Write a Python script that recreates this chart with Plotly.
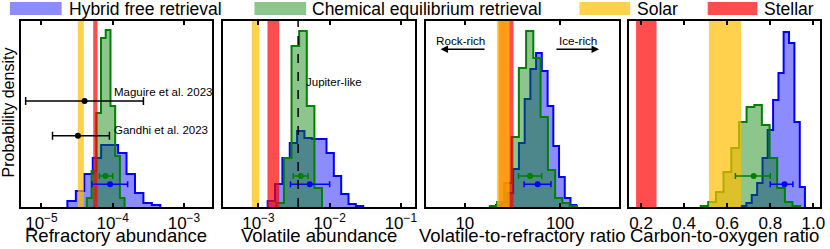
import numpy as np
import plotly.graph_objects as go

# ---------------- data ----------------
# Panel 1: refractory abundance, histogram bin edges in log10
refr_blue_edges_log = [-4.636, -4.517, -4.399, -4.280, -4.162, -4.043, -3.924, -3.806, -3.687, -3.569, -3.450, -3.331]
refr_blue_dens = [6, 16, 33, 49, 62, 62, 54, 33, 14, 4, 2]
refr_green_edges_log = [-4.363, -4.296, -4.230, -4.164, -4.098, -4.031, -3.965, -3.899, -3.833]
refr_green_dens = [9, 36, 94, 169, 177, 101, 51, 9]

# Panel 2: volatile abundance
vol_blue_edges_log = [-2.870, -2.767, -2.664, -2.560, -2.457, -2.354, -2.251, -2.148, -2.044, -1.941, -1.838, -1.735, -1.632, -1.528]
vol_blue_dens = [6, 23, 49, 64, 76, 69, 68, 68, 54, 31, 13, 3, 1]
vol_green_edges_log = [-2.749, -2.642, -2.535, -2.428, -2.321, -2.214, -2.107]
vol_green_dens = [4, 49, 161, 176, 101, 19]

# Panel 3: volatile-to-refractory ratio
vr_blue_edges_log = [1.327, 1.387, 1.447, 1.507, 1.568, 1.628, 1.688, 1.748, 1.808, 1.869, 1.929, 1.989, 2.049, 2.109, 2.170]
vr_blue_dens = [2, 5, 14, 38, 64, 108, 138, 154, 136, 101, 61, 30, 9, 2]
vr_green_edges_log = [1.262, 1.338, 1.414, 1.491, 1.567, 1.643, 1.719, 1.795, 1.872, 1.948, 2.024, 2.100, 2.176]
vr_green_dens = [1, 5, 24, 70, 139, 176, 149, 90, 37, 9, 4, 1]

# Panel 4: carbon-to-oxygen ratio (linear)
co_blue_edges = [0.665, 0.689, 0.714, 0.739, 0.764, 0.788, 0.813, 0.838, 0.862, 0.887, 0.912, 0.937, 0.961]
co_blue_dens = [1, 4, 12, 24, 49, 77, 107, 134, 175, 164, 85, 20]
co_green_edges = [0.477, 0.512, 0.548, 0.583, 0.619, 0.655, 0.690, 0.726, 0.761, 0.797, 0.832, 0.868, 0.903, 0.939]
co_green_dens = [1, 5, 15, 35, 59, 85, 100, 102, 82, 49, 19, 5, 1]

# Solar / stellar ranges [low, high] per panel
solar_ranges = [[3.24e-5, 3.93e-5], [8.07e-4, 1.03e-3], [21.7, 29.5], [0.515, 0.665]]
stellar_ranges = [[5.33e-5, 6.12e-5], [1.34e-3, 1.96e-3], [22.6, 32.4], [0.177, 0.272]]

# Median and 68% interval of each retrieval: [median, low, high]
green_summary = [[7.91e-5, 6.52e-5, 1.0e-4], [3.94e-3, 3.08e-3, 4.98e-3], [48.4, 36.6, 64.1], [0.723, 0.638, 0.800]]
blue_summary = [[9.20e-5, 5.09e-5, 1.62e-4], [5.26e-3, 2.82e-3, 1.0e-2], [58.2, 41.9, 80.2], [0.866, 0.800, 0.905]]
summary_level = {"green": 31, "blue": 22.7}

# Literature refractory abundances
lit_names = ["Maguire et al. 2023", "Gandhi et al. 2023"]
lit_value = [4.03e-5, 3.25e-5]
lit_low = [6.0e-6, 1.43e-5]
lit_high = [2.70e-4, 9.0e-5]
lit_level = [106, 71.3]

jupiter_volatile = 3.61e-3

x_titles = ["Refractory abundance", "Volatile abundance", "Volatile-to-refractory ratio", "Carbon-to-oxygen ratio"]
legend_labels = ["Hybrid free retrieval", "Chemical equilibrium retrieval", "Solar", "Stellar"]

# ---------------- styling ----------------
W, H = 830, 249
TOP, BOT = 21, 207
YMAX = 186
FONT = "Liberation Sans, Arial, Helvetica, sans-serif"
BLUE_FILL = "rgba(0,0,255,0.45)"
GREEN_FILL = "rgba(0,128,0,0.45)"
SOLAR_FILL = "rgba(255,190,0,0.7)"
STELLAR_FILL = "rgba(255,0,0,0.7)"

domains = [[20.7 / W, 213 / W], [224.5 / W, 418 / W], [428.5 / W, 622.5 / W], [633 / W, 825 / W]]
is_log = [True, True, True, False]
xranges = [[-5.293, -2.61], [-3.495, -0.795], [0.591, 2.616], [0.145, 1.031]]
tickvals = [[1e-5, 1e-4, 1e-3], [1e-3, 1e-2, 1e-1], [10, 100], [0.2, 0.4, 0.6, 0.8, 1.0]]
ticktext = [["10<sup>\u22125</sup>", "10<sup>\u22124</sup>", "10<sup>\u22123</sup>"],
            ["10<sup>\u22123</sup>", "10<sup>\u22122</sup>", "10<sup>\u22121</sup>"],
            ["10", "100"],
            ["0.2", "0.4", "0.6", "0.8", "1.0"]]

hists = [
    (refr_blue_edges_log, refr_blue_dens, refr_green_edges_log, refr_green_dens),
    (vol_blue_edges_log, vol_blue_dens, vol_green_edges_log, vol_green_dens),
    (vr_blue_edges_log, vr_blue_dens, vr_green_edges_log, vr_green_dens),
    (co_blue_edges, co_blue_dens, co_green_edges, co_green_dens),
]

fig = go.Figure()


def step(edges, dens, log):
    e = [10 ** v for v in edges] if log else list(edges)
    xs = e + [e[-1]]
    ys = [0] + list(dens) + [0]
    return xs, ys


def ax_name(i, kind):
    return kind + ("" if i == 0 else str(i + 1))


for i in range(4):
    xa, ya = ax_name(i, "x"), ax_name(i, "y")
    be, bd, ge, gd = hists[i]
    for edges, dens, fill, col in [(be, bd, BLUE_FILL, "blue"), (ge, gd, GREEN_FILL, "green")]:
        xs, ys = step(edges, dens, is_log[i])
        fig.add_trace(go.Scatter(x=xs, y=ys, mode="lines", line=dict(color=col, width=2, shape="vh"),
                                 fill="tozeroy", fillcolor=fill, xaxis=xa, yaxis=ya,
                                 showlegend=False, hoverinfo="skip"))
    for rng, fill in [(stellar_ranges[i], STELLAR_FILL), (solar_ranges[i], SOLAR_FILL)]:
        a, b = rng
        fig.add_trace(go.Scatter(x=[a, a, b, b, a], y=[0, YMAX, YMAX, 0, 0], mode="lines",
                                 line=dict(width=0), fill="toself", fillcolor=fill,
                                 xaxis=xa, yaxis=ya, showlegend=False, hoverinfo="skip"))
    for summ, col, key in [(green_summary[i], "green", "green"), (blue_summary[i], "blue", "blue")]:
        m, lo, hi = summ
        fig.add_trace(go.Scatter(x=[m], y=[summary_level[key]], mode="markers",
                                 marker=dict(color=col, size=6),
                                 error_x=dict(type="data", symmetric=False, array=[hi - m], arrayminus=[m - lo],
                                              color=col, thickness=1.5, width=3),
                                 xaxis=xa, yaxis=ya, showlegend=False, hoverinfo="skip"))

# literature points on panel 1
for name, v, lo, hi, lev in zip(lit_names, lit_value, lit_low, lit_high, lit_level):
    fig.add_trace(go.Scatter(x=[v], y=[lev], mode="markers", marker=dict(color="black", size=6),
                             error_x=dict(type="data", symmetric=False, array=[hi - v], arrayminus=[v - lo],
                                          color="black", thickness=1.5, width=4),
                             xaxis="x", yaxis="y", showlegend=False, hoverinfo="skip"))

# Jupiter-like line on panel 2
fig.add_trace(go.Scatter(x=[jupiter_volatile, jupiter_volatile], y=[0, YMAX], mode="lines",
                         line=dict(color="black", width=1.5, dash="dash"),
                         xaxis="x2", yaxis="y2", showlegend=False, hoverinfo="skip"))

annotations = []
SMALL = 11.5
# literature labels
annotations.append(dict(x=-4.0, y=115.3, xref="x", yref="y", text="Maguire et al. 2023", showarrow=False,
                        xanchor="left", yanchor="middle", borderpad=0, font=dict(size=SMALL, color="black")))
annotations.append(dict(x=-3.994, y=77, xref="x", yref="y", text="Gandhi et al. 2023", showarrow=False,
                        xanchor="left", yanchor="middle", borderpad=0, font=dict(size=SMALL, color="black")))
annotations.append(dict(x=-2.349, y=125.3, xref="x2", yref="y2", text="Jupiter-like", showarrow=False,
                        xanchor="left", yanchor="middle", borderpad=0, font=dict(size=SMALL, color="black")))
# Rock-rich / Ice-rich
annotations.append(dict(x=0.950, y=167, xref="x3", yref="y3", text="Rock-rich", showarrow=False,
                        xanchor="center", yanchor="middle", font=dict(size=11.7, color="black")))
annotations.append(dict(x=2.185, y=167, xref="x3", yref="y3", text="Ice-rich", showarrow=False,
                        xanchor="center", yanchor="middle", font=dict(size=11.7, color="black")))
annotations.append(dict(x=0.745, y=157.7, xref="x3", yref="y3", ax=1.222, ay=157.7, axref="x3", ayref="y3",
                        text="", showarrow=True, arrowhead=2, arrowsize=1, arrowwidth=1.5, arrowcolor="black"))
annotations.append(dict(x=2.409, y=157.7, xref="x3", yref="y3", ax=1.946, ay=157.7, axref="x3", ayref="y3",
                        text="", showarrow=True, arrowhead=2, arrowsize=1, arrowwidth=1.5, arrowcolor="black"))

# axis titles
for i in range(4):
    annotations.append(dict(x=0.5, y=(BOT - 235) / YMAX, xref=ax_name(i, "x") + " domain", yref="paper",
                            text=x_titles[i], showarrow=False, xanchor="center", yanchor="middle",
                            font=dict(size=18.5, color="black")))
annotations.append(dict(x=8.5 / W, y=(BOT - 112) / YMAX, xref="paper", yref="paper", text="Probability density",
                        textangle=-90, showarrow=False, xanchor="center", yanchor="middle",
                        font=dict(size=16, color="black")))

# manual legend
shapes = []
leg_patch_x = [[10, 62], [256, 308], [583, 634], [712, 762]]
leg_text_x = [68, 313, 640, 768]
leg_cols = [BLUE_FILL, GREEN_FILL, SOLAR_FILL, STELLAR_FILL]
for (a, b), tx, col, lab in zip(leg_patch_x, leg_text_x, leg_cols, legend_labels):
    shapes.append(dict(type="rect", xref="paper", yref="paper", x0=a / W, x1=b / W,
                       y0=(BOT - 15) / YMAX, y1=(BOT - 2) / YMAX, fillcolor=col, line=dict(width=0)))
    annotations.append(dict(x=tx / W, y=(BOT - 8.5) / YMAX, xref="paper", yref="paper", text=lab,
                            showarrow=False, xanchor="left", yanchor="middle", borderpad=0,
                            font=dict(size=17.5, color="black")))

layout = dict(width=W, height=H, margin=dict(l=0, r=0, t=TOP, b=H - BOT),
              paper_bgcolor="white", plot_bgcolor="white", font=dict(family=FONT, color="black"),
              annotations=annotations, shapes=shapes, showlegend=False)
for i in range(4):
    xa = dict(domain=domains[i], type="log" if is_log[i] else "linear", range=xranges[i],
              tickmode="array", tickvals=tickvals[i], ticktext=ticktext[i],
              ticks="inside", ticklen=4, tickwidth=1.5, tickcolor="black",
              showline=True, linecolor="black", linewidth=2, mirror="ticks",
              showgrid=False, zeroline=False, tickfont=dict(size=17, color="black"),
              anchor=ax_name(i, "y"))
    ya = dict(domain=[0, 1], range=[0, YMAX], showticklabels=False, ticks="",
              showline=True, linecolor="black", linewidth=2, mirror=True,
              showgrid=False, zeroline=False, anchor=ax_name(i, "x"))
    layout["xaxis" if i == 0 else f"xaxis{i+1}"] = xa
    layout["yaxis" if i == 0 else f"yaxis{i+1}"] = ya

fig.update_layout(**layout)
# remove the default 8px page margin so the figure sits at the window origin
fig.write_html("out.html", config={"displayModeBar": False},
               post_script="document.body.style.margin='0';document.body.style.overflow='hidden';")
